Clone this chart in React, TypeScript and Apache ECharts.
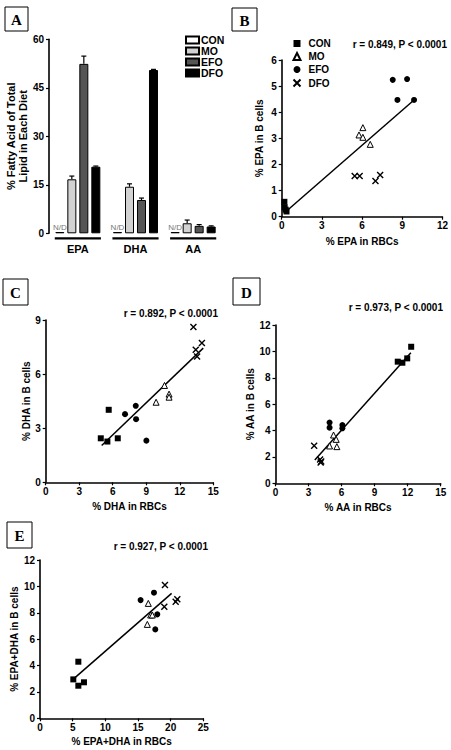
import React, { useEffect, useRef } from "react";
import * as echarts from "echarts";

// ---------- Panel A : diet composition ----------
const dietCategories = ["EPA", "DHA", "AA"];
const dietYTicks = [0, 15, 30, 45, 60];
const conDiet = [0.4, 0.4, 0.4];
const moDiet = [16.7, 14.4, 3.1];
const moErr = [1.0, 0.9, 1.0];
const efoDiet = [52.4, 10.3, 2.3];
const efoErr = [2.4, 0.6, 0.4];
const dfoDiet = [20.6, 50.5, 2.1];
const dfoErr = [0.2, 0.2, 0.2];

// ---------- Panel B : EPA ----------
const epaCon = [[0.2, 0.57], [0.22, 0.36], [0.3, 0.27], [0.36, 0.2]];
const epaMo = [[6.06, 3.41], [5.77, 3.13], [6.06, 3.04], [6.61, 2.77]];
const epaEfo = [[8.29, 5.24], [9.36, 5.27], [8.64, 4.47], [9.88, 4.47]];
const epaDfo = [[5.45, 1.56], [5.82, 1.56], [7.0, 1.37], [7.35, 1.6]];
const epaFit = [[0.17, 0.13], [9.88, 4.47]];

// ---------- Panel C : DHA ----------
const dhaCon = [[4.93, 2.44], [5.64, 4.02], [5.52, 2.26], [6.45, 2.44]];
const dhaMo = [[9.88, 4.44], [10.63, 5.37], [11.04, 4.89], [11.04, 4.72]];
const dhaEfo = [[7.1, 3.78], [8.06, 4.24], [8.09, 3.5], [9.01, 2.31]];
const dhaDfo = [[13.22, 8.61], [13.43, 7.35], [13.55, 6.98], [13.98, 7.72]];
const dhaFit = [[5.01, 2.04], [14.1, 7.44]];

// ---------- Panel D : AA ----------
const aaCon = [[11.1, 9.22], [11.52, 9.14], [11.96, 9.47], [12.32, 10.35]];
const aaMo = [[5.27, 3.66], [5.51, 3.33], [4.91, 2.83], [5.57, 2.78]];
const aaEfo = [[4.91, 4.6], [4.91, 4.22], [6.07, 4.42], [6.07, 4.17]];
const aaDfo = [[3.51, 2.85], [4.05, 1.8], [4.15, 1.65], [4.1, 1.58]];
const aaFit = [[3.57, 1.77], [12.29, 9.9]];

// ---------- Panel E : EPA+DHA ----------
const sumCon = [[5.1, 2.95], [5.87, 4.29], [5.87, 2.47], [6.73, 2.73]];
const sumMo = [[16.58, 8.71], [16.43, 7.12], [16.94, 7.83], [17.2, 7.83]];
const sumEfo = [[15.4, 8.96], [17.45, 9.52], [17.96, 7.88], [17.65, 6.74]];
const sumDfo = [[19.13, 10.1], [19.03, 8.46], [20.77, 8.84], [21.02, 9.02]];
const sumFit = [[5.36, 3.08], [20.15, 9.47]];

const groups = ["CON", "MO", "EFO", "DFO"];
const FONT = "Liberation Sans, Arial, sans-serif";
const SERIF = "Liberation Serif, Times New Roman, serif";
const CROSS = "path://M0,0L10,10M10,0L0,10";

const symbolFor: Record<string, any> = {
  CON: { symbol: "rect", itemStyle: { color: "#000", opacity: 1 } },
  MO: { symbol: "triangle", itemStyle: { color: "#fff", borderColor: "#000", borderWidth: 1, opacity: 1 } },
  EFO: { symbol: "circle", itemStyle: { color: "#000", opacity: 1 } },
  DFO: { symbol: CROSS, itemStyle: { color: "none", borderColor: "#000", borderWidth: 1.4, opacity: 1 } },
};

function valueAxis(gridIndex: number, min: number, max: number, interval: number, name: string, nameGap: number, isY: boolean) {
  return {
    gridIndex,
    type: "value",
    min,
    max,
    interval,
    name,
    nameLocation: "middle",
    nameGap,
    nameTextStyle: { fontFamily: FONT, fontWeight: "bold", fontSize: 10, color: "#000" },
    axisLine: { show: true, lineStyle: { color: "#000", width: 1.6 } },
    axisTick: { show: true, length: 3, lineStyle: { color: "#000", width: 1.2 } },
    axisLabel: { fontFamily: FONT, fontWeight: "bold", fontSize: 10, color: "#000", margin: isY ? 5 : 4 },
    splitLine: { show: false },
  };
}

function scatterSeries(idx: number, sets: number[][][], fit: number[][]) {
  const out: any[] = sets.map((d, i) => ({
    type: "scatter",
    name: groups[i],
    xAxisIndex: idx,
    yAxisIndex: idx,
    data: d,
    symbolSize: 6,
    symbol: symbolFor[groups[i]].symbol,
    itemStyle: symbolFor[groups[i]].itemStyle,
    z: 3,
  }));
  out.push({
    type: "line",
    name: "fit" + idx,
    xAxisIndex: idx,
    yAxisIndex: idx,
    data: fit,
    showSymbol: false,
    symbol: "none",
    lineStyle: { color: "#000", width: 1.5 },
    z: 2,
  });
  return out;
}

function panelLabel(letter: string, x: number, y: number, w: number, h: number) {
  return [
    { type: "rect", shape: { x, y, width: w, height: h }, style: { fill: "#fff", stroke: "#000", lineWidth: 1 } },
    {
      type: "text",
      x: x + w / 2,
      y: y + h / 2 + 1,
      style: { text: letter, fontFamily: SERIF, fontWeight: "bold", fontSize: 15, fill: "#000", align: "center", verticalAlign: "middle" },
    },
  ];
}

function stat(text: string, right: number, y: number) {
  return {
    type: "text",
    x: right,
    y,
    style: { text, fontFamily: FONT, fontWeight: "bold", fontSize: 10, fill: "#000", align: "right", verticalAlign: "middle" },
  };
}

export default function App() {
  const ref = useRef<HTMLDivElement>(null);
  useEffect(() => {
    if (!ref.current) return;
    const chart = echarts.init(ref.current, undefined, { renderer: "svg" });

    const barColors = ["#ffffff", "#d2d2d2", "#555555", "#000000"];
    const dietVals = [conDiet, moDiet, efoDiet, dfoDiet];
    const dietErrs = [null, moErr, efoErr, dfoErr];

    const barSeries: any[] = dietVals.map((vals, k) => ({
      type: "bar",
      name: "A-" + groups[k],
      xAxisIndex: 0,
      yAxisIndex: 0,
      data: vals,
      barWidth: 9,
      barGap: "33.3%",
      itemStyle: { color: barColors[k], borderColor: "#000", borderWidth: 1 },
      label:
        k === 0
          ? { show: true, position: "top", formatter: "N/D", color: "#777", fontFamily: FONT, fontSize: 8, distance: 1 }
          : { show: false },
      z: 2,
    }));

    const errSeries: any[] = [];
    dietErrs.forEach((errs, k) => {
      if (!errs) return;
      const offset = (k - 1.5) * 12;
      errSeries.push({
        type: "custom",
        name: "err" + k,
        xAxisIndex: 0,
        yAxisIndex: 0,
        data: dietVals[k].map((v, i) => [i, v, errs[i]]),
        z: 4,
        renderItem: (_p: any, api: any) => {
          const i = api.value(0);
          const v = api.value(1);
          const e = api.value(2);
          const base = api.coord([i, v]);
          const top = api.coord([i, v + e]);
          const x = base[0] + offset;
          return {
            type: "group",
            children: [
              { type: "line", shape: { x1: x, y1: base[1], x2: x, y2: top[1] }, style: { stroke: "#000", lineWidth: 1.2 } },
              { type: "line", shape: { x1: x - 2.5, y1: top[1], x2: x + 2.5, y2: top[1] }, style: { stroke: "#000", lineWidth: 1.2 } },
            ],
          };
        },
      });
    });

    const underline = {
      type: "custom",
      name: "groupAxis",
      xAxisIndex: 0,
      yAxisIndex: 0,
      data: dietCategories.map((_c, i) => [i, 0]),
      z: 4,
      renderItem: (_p: any, api: any) => {
        const c = api.coord([api.value(0), 0]);
        const bw = api.size([1, 0])[0];
        return {
          type: "line",
          shape: { x1: c[0] - bw * 0.4, y1: c[1] + 5, x2: c[0] + bw * 0.4, y2: c[1] + 5 },
          style: { stroke: "#000", lineWidth: 2.2 },
        };
      },
    };

    const option: any = {
      animation: false,
      backgroundColor: "#fff",
      grid: [
        { left: 49, top: 39.3, width: 173, height: 194 },
        { left: 281.7, top: 60, width: 161.6, height: 156.7 },
        { left: 45.7, top: 320, width: 167.6, height: 162.3 },
        { left: 275.5, top: 325, width: 165.2, height: 158.3 },
        { left: 40, top: 560, width: 163.3, height: 158.3 },
      ],
      xAxis: [
        {
          gridIndex: 0,
          type: "category",
          data: dietCategories,
          axisLine: { show: false },
          axisTick: { show: false },
          axisLabel: { fontFamily: FONT, fontWeight: "bold", fontSize: 11, color: "#000", margin: 10 },
        },
        valueAxis(1, 0, 12, 3, "% EPA in RBCs", 20, false),
        valueAxis(2, 0, 15, 3, "% DHA in RBCs", 19, false),
        valueAxis(3, 0, 15, 3, "% AA in RBCs", 19, false),
        valueAxis(4, 0, 25, 5, "% EPA+DHA in RBCs", 18, false),
      ],
      yAxis: [
        {
          gridIndex: 0,
          type: "value",
          min: dietYTicks[0],
          max: dietYTicks[dietYTicks.length - 1],
          interval: 15,
          name: "% Fatty Acid of Total\nLipid in Each Diet",
          nameLocation: "middle",
          nameGap: 19,
          nameTextStyle: { fontFamily: FONT, fontWeight: "bold", fontSize: 11, color: "#000", lineHeight: 12 },
          axisLine: { show: true, lineStyle: { color: "#000", width: 1.6 } },
          axisTick: { show: true, length: 3, lineStyle: { color: "#000", width: 1.2 } },
          axisLabel: { fontFamily: FONT, fontWeight: "bold", fontSize: 10, color: "#000", margin: 5 },
          splitLine: { show: false },
        },
        valueAxis(1, 0, 6, 1, "% EPA in B cells", 17, true),
        valueAxis(2, 0, 9, 3, "% DHA in B cells", 14, true),
        valueAxis(3, 0, 12, 2, "% AA in B cells", 16, true),
        valueAxis(4, 0, 12, 2, "% EPA+DHA in B cells", 20, true),
      ],
      legend: [
        {
          data: groups.map((g) => "A-" + g),
          formatter: (n: string) => n.slice(2),
          orient: "vertical",
          left: 180,
          top: 29.5,
          itemWidth: 13,
          itemHeight: 7,
          itemGap: 0,
          icon: "rect",
          selectedMode: false,
          textStyle: { fontFamily: FONT, fontWeight: "bold", fontSize: 10.5, color: "#000", lineHeight: 11, padding: [0, 0, 0, -3] },
        },
        {
          data: groups,
          orient: "vertical",
          left: 286,
          top: 33,
          itemWidth: 7,
          itemHeight: 7,
          itemGap: 2,
          selectedMode: false,
          textStyle: { fontFamily: FONT, fontWeight: "bold", fontSize: 10, color: "#000", lineHeight: 11, padding: [0, 0, 0, 3] },
        },
      ],
      series: [
        ...barSeries,
        ...errSeries,
        underline,
        ...scatterSeries(1, [epaCon, epaMo, epaEfo, epaDfo], epaFit),
        ...scatterSeries(2, [dhaCon, dhaMo, dhaEfo, dhaDfo], dhaFit),
        ...scatterSeries(3, [aaCon, aaMo, aaEfo, aaDfo], aaFit),
        ...scatterSeries(4, [sumCon, sumMo, sumEfo, sumDfo], sumFit),
      ],
      graphic: [
        ...panelLabel("A", 5, 7, 23, 24),
        ...panelLabel("B", 232, 8, 25, 23),
        ...panelLabel("C", 3, 279, 25, 26),
        ...panelLabel("D", 233, 278, 27, 27),
        ...panelLabel("E", 7, 522, 25, 26),
        stat("r = 0.849, P < 0.0001", 447, 44),
        stat("r = 0.892, P < 0.0001", 218, 313),
        stat("r = 0.973, P < 0.0001", 443, 307),
        stat("r = 0.927, P < 0.0001", 208, 546),
      ],
    };
    chart.setOption(option);
    return () => chart.dispose();
  }, []);
  return <div ref={ref} style={{ position: "fixed", left: 0, top: 0, width: 451, height: 750, background: "#fff" }} />;
}
